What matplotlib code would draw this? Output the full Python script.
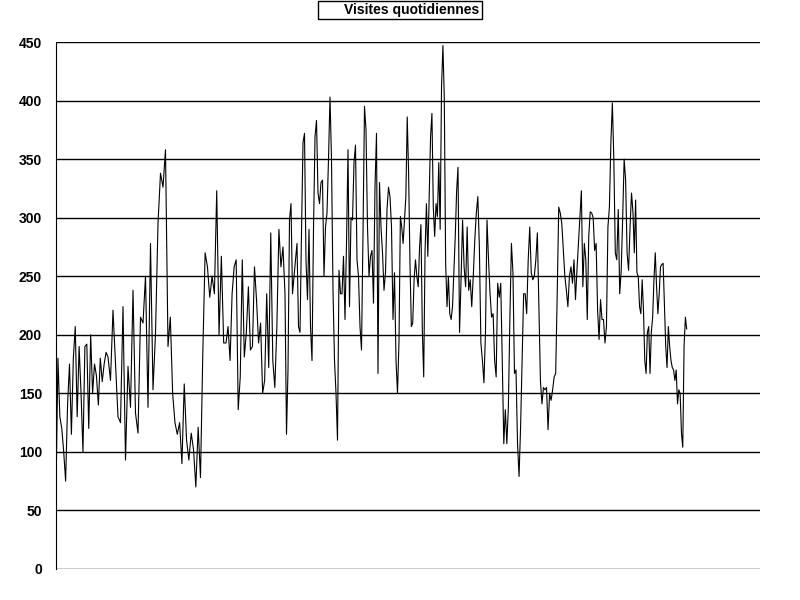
import numpy as np
import matplotlib
matplotlib.use("Agg")
import matplotlib.pyplot as plt
from matplotlib.lines import Line2D

# daily visits in segments (left to right)
seg_a = [65, 180, 130, 120, 100, 75, 140, 175, 115, 180, 207, 130, 190, 150, 100, 190, 192, 120,
         200, 150, 175, 165, 140, 180, 160, 175, 185]
seg_b = [181, 161, 221, 175, 130, 125, 224, 93, 173, 138, 238, 133, 116, 215, 210, 250, 138, 278,
         153, 201, 295, 338, 326, 358]
seg_c = [190, 215, 150, 125, 115, 125, 90, 158, 110, 93, 116, 102, 70, 121, 78, 184, 270, 258,
         232, 250, 235, 323, 200, 267, 193]
seg_d = [193, 207, 178, 235, 258, 264, 136, 164, 264, 181, 202, 241, 187, 190, 258, 230, 193, 210,
         150, 161, 235, 172, 287, 178, 155, 207, 290, 258, 275]
seg_e = [235, 115, 170, 298, 312, 235, 250, 264, 278, 207, 202, 287, 364, 372, 264, 230, 290, 207,
         178, 290, 369, 383, 321, 312, 330, 332, 250, 292, 304, 350, 403, 350, 238, 178, 150, 110,
         255, 235]
seg_f = [235, 267, 213, 278, 358, 224, 300, 298, 347, 362, 264, 250, 207, 187, 287, 395, 375, 292,
         250, 267, 272, 227, 326, 372, 167, 330, 292, 270, 238, 253, 307, 326, 318, 292, 213, 253,
         178, 150]
seg_g = [195, 301, 292, 278, 298, 318, 386, 338, 261, 207, 210, 247, 264, 250, 241, 275, 294, 204,
         164, 272, 312, 267, 318, 369, 389, 309, 284, 312, 301, 347, 290, 412, 447, 403, 261, 224,
         250, 218, 213, 224, 255, 284, 323]
seg_h = [343, 202, 247, 298, 258, 241, 292, 238, 247, 224, 250, 281, 304, 318, 275, 193, 178, 159,
         202, 298, 264, 235, 215, 218, 178, 164, 244, 232, 244, 178, 107, 136, 107, 138, 215, 278,
         253, 167]
seg_i = [170, 107, 79, 121, 178, 235, 235, 218, 264, 292, 253, 247, 250, 264, 287, 224, 161, 141,
         155, 153, 155, 119, 150, 144, 153, 164, 167, 235, 309, 304, 295, 272, 250, 238, 224, 250,
         258, 244]
seg_j = [264, 230, 255, 278, 300, 323, 241, 278, 264, 213, 284, 305, 304, 300, 272, 278, 221, 196,
         230, 213, 213, 193, 207, 292, 309, 364, 398, 350, 270, 264, 307, 235, 255, 300, 350, 332,
         270, 255, 292, 321]
seg_k = [304, 270, 315, 253, 250, 224, 218, 247, 221, 178, 167, 202, 207, 167, 202, 215, 247, 270,
         241, 218, 235, 258, 260, 261, 224, 190, 172, 207, 190, 178, 172, 170, 161, 170, 141, 153,
         150, 116, 104, 190, 215, 205]

segments = [seg_a, seg_b, seg_c, seg_d, seg_e, seg_f, seg_g, seg_h, seg_i, seg_j, seg_k]
seg_start = [0, 52, 112, 170, 229, 286, 343, 402, 460, 518, 577, 632]   # day where each segment begins
total_days = 704
yticks = [0, 50, 100, 150, 200, 250, 300, 350, 400, 450]

days = np.concatenate([np.linspace(seg_start[i], seg_start[i + 1], len(s), endpoint=False)
                       for i, s in enumerate(segments)])
visits = np.concatenate(segments)

plt.rcParams['font.family'] = ['Liberation Sans', 'DejaVu Sans']
fig = plt.figure(figsize=(8, 6), dpi=100)
ax = fig.add_axes([0.07, 0.0517, 0.88, 0.8783])

ax.plot(days, visits, color="black", lw=0.8)

ax.set_xlim(0, total_days)
ax.set_ylim(0, 450)
ax.set_yticks(yticks)
ax.set_xticks([])
ax.yaxis.grid(True, color="black", lw=1)
ax.set_axisbelow(True)
ax.tick_params(axis="y", length=0, pad=10, labelsize=10)
for lab in ax.get_yticklabels():
    lab.set_fontweight("bold")
ax.spines["right"].set_visible(False)
ax.spines["top"].set_visible(False)
ax.spines["bottom"].set_visible(False)

fig.legend([Line2D([], [], color="none")], ["Visites quotidiennes"],
           loc="center", bbox_to_anchor=(0.5, 0.984), fancybox=False, edgecolor="black",
           framealpha=1, borderpad=0.15, handlelength=1.3, handletextpad=0.4,
           prop={"size": 10, "weight": "bold"})

fig.savefig("out.png", dpi=100)
